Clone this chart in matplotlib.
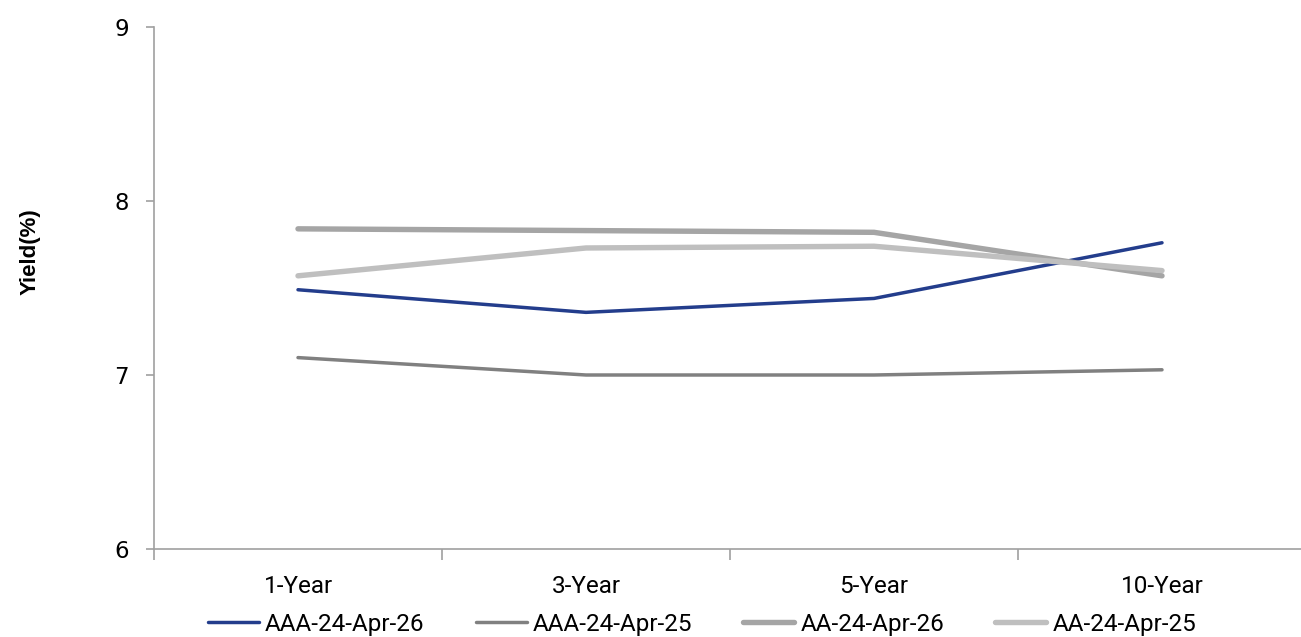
import matplotlib
matplotlib.use("Agg")
import matplotlib.pyplot as plt
from matplotlib.ticker import FixedLocator

categories = ["1-Year", "3-Year", "5-Year", "10-Year"]
series_names = ["AAA-24-Apr-26", "AAA-24-Apr-25", "AA-24-Apr-26", "AA-24-Apr-25"]
aaa_26 = [7.49, 7.36, 7.44, 7.76]
aaa_25 = [7.10, 7.00, 7.00, 7.03]
aa_26 = [7.84, 7.83, 7.82, 7.57]
aa_25 = [7.57, 7.73, 7.74, 7.60]
y_ticks = [6, 7, 8, 9]

cond = "Roboto"

fig = plt.figure(figsize=(13.01, 6.37), dpi=100)
ax = fig.add_axes([154/1301, 1-549/637, (1306-154)/1301, (549-27)/637])

x = list(range(len(categories)))
styles = [
    (aaa_26, "#233D8C", 2.5),
    (aaa_25, "#808080", 2.5),
    (aa_26, "#A5A5A5", 3.9),
    (aa_25, "#BFBFBF", 3.9),
]
for (vals, col, lw), name in zip(styles, series_names):
    ax.plot(x, vals, color=col, lw=lw, solid_capstyle="round", solid_joinstyle="miter", label=name)

ax.set_xlim(-0.5, len(categories) - 0.5)
ax.set_ylim(6, 9)
ax.set_yticks(y_ticks)
ax.set_yticklabels([str(v) for v in y_ticks], fontsize=16.5, family="DejaVu Sans")
ax.set_xticks(x)
ax.set_xticklabels(categories, fontsize=17.5, family=cond)
ax.xaxis.set_minor_locator(FixedLocator([i - 0.5 for i in range(len(categories) + 1)]))
ax.tick_params(axis="x", which="major", length=0, pad=19)
ax.tick_params(axis="x", which="minor", length=8, color="#A0A0A0", width=1.2)
ax.tick_params(axis="y", length=6, color="#A0A0A0", width=1.2, pad=12)

for s in ["top", "right"]:
    ax.spines[s].set_visible(False)
for s in ["left", "bottom"]:
    ax.spines[s].set_color("#A0A0A0")
    ax.spines[s].set_linewidth(1.2)

fig.text(30/1301, 1-252/637, "Yield(%)", rotation=90, fontsize=16, fontweight="bold",
         family="Liberation Sans", ha="center", va="center")

leg = fig.legend(loc="center", bbox_to_anchor=(702/1301, 1-624/637), ncol=4, frameon=False,
                 prop={"family": cond, "size": 17.5}, handlelength=2.1, handletextpad=0.25,
                 columnspacing=2.1, borderaxespad=0, borderpad=0)

fig.savefig("out.png", dpi=100)
